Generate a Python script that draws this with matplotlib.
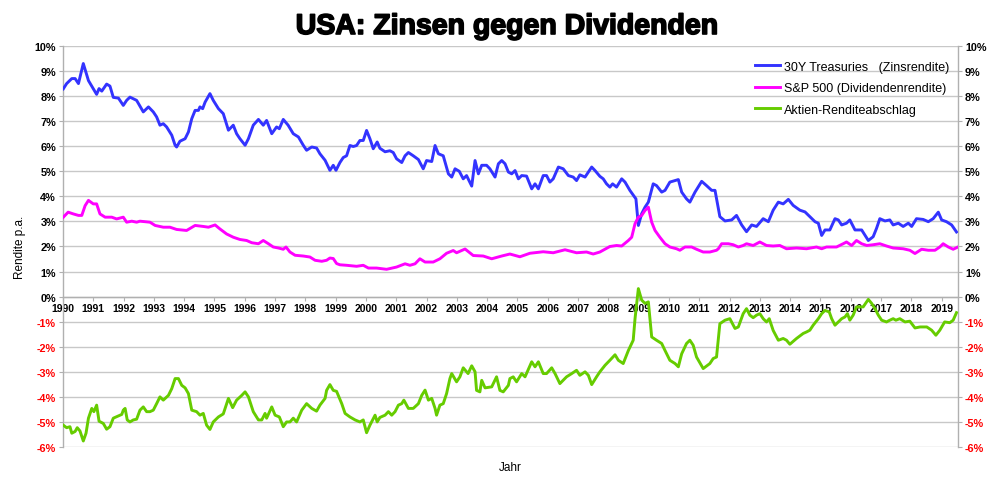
import matplotlib
matplotlib.use("Agg")
import matplotlib.pyplot as plt
import matplotlib.patheffects as pe

# 30Y Treasuries (Zinsrendite), % p.a.
t_years = [1990.01, 1990.12, 1990.29, 1990.40, 1990.51, 1990.67, 1990.84, 1991.00, 1991.11, 1991.19,
           1991.28, 1991.44, 1991.55, 1991.66, 1991.83, 1991.99, 1992.10, 1992.21, 1992.43, 1992.65,
           1992.82, 1992.98, 1993.09, 1993.20, 1993.31, 1993.42, 1993.59, 1993.70, 1993.75, 1993.86,
           1994.03, 1994.14, 1994.25, 1994.36, 1994.47, 1994.52, 1994.61, 1994.69, 1994.85, 1994.96,
           1995.13, 1995.29, 1995.46, 1995.62, 1995.73, 1995.84, 1996.01, 1996.12, 1996.28, 1996.45,
           1996.61, 1996.72, 1996.89, 1997.05, 1997.14, 1997.27, 1997.43, 1997.60, 1997.77, 1997.93,
           1998.04, 1998.21, 1998.37, 1998.48, 1998.65, 1998.81, 1998.92, 1999.01, 1999.14, 1999.25,
           1999.36, 1999.47, 1999.58, 1999.69, 1999.80, 1999.91, 2000.02, 2000.13, 2000.24, 2000.37,
           2000.46, 2000.63, 2000.79, 2000.90, 2001.01, 2001.18, 2001.29, 2001.40, 2001.56, 2001.73,
           2001.89, 2002.00, 2002.17, 2002.28, 2002.39, 2002.55, 2002.72, 2002.83, 2002.94, 2003.08,
           2003.21, 2003.32, 2003.49, 2003.60, 2003.71, 2003.82, 2003.98, 2004.09, 2004.26, 2004.37,
           2004.48, 2004.59, 2004.70, 2004.81, 2004.92, 2005.03, 2005.14, 2005.30, 2005.47, 2005.58,
           2005.69, 2005.85, 2005.96, 2006.07, 2006.18, 2006.35, 2006.51, 2006.68, 2006.84, 2006.95,
           2007.06, 2007.23, 2007.34, 2007.45, 2007.56, 2007.72, 2007.83, 2007.94, 2008.05, 2008.14,
           2008.27, 2008.44, 2008.55, 2008.71, 2008.91, 2008.99, 2009.10, 2009.21, 2009.32, 2009.48,
           2009.59, 2009.76, 2009.87, 2010.03, 2010.31, 2010.42, 2010.58, 2010.69, 2010.86, 2011.08,
           2011.24, 2011.41, 2011.52, 2011.68, 2011.85, 2012.07, 2012.23, 2012.40, 2012.56, 2012.73,
           2012.89, 2013.11, 2013.28, 2013.44, 2013.61, 2013.77, 2013.94, 2014.10, 2014.32, 2014.49,
           2014.65, 2014.82, 2014.93, 2015.04, 2015.15, 2015.31, 2015.48, 2015.59, 2015.70, 2015.86,
           2015.97, 2016.14, 2016.36, 2016.58, 2016.74, 2016.85, 2016.96, 2017.13, 2017.29, 2017.40,
           2017.57, 2017.73, 2017.90, 2018.01, 2018.17, 2018.39, 2018.56, 2018.72, 2018.89, 2019.00,
           2019.16, 2019.33, 2019.49]
t_vals = [8.29, 8.50, 8.70, 8.70, 8.50, 9.30, 8.62, 8.29, 8.07, 8.30,
          8.20, 8.48, 8.40, 7.95, 7.92, 7.63, 7.83, 7.96, 7.83, 7.37,
          7.57, 7.37, 7.17, 6.84, 6.90, 6.77, 6.44, 6.04, 5.97, 6.20,
          6.30, 6.57, 7.10, 7.43, 7.43, 7.57, 7.50, 7.76, 8.10, 7.83,
          7.50, 7.30, 6.64, 6.84, 6.50, 6.30, 6.04, 6.30, 6.84, 7.07,
          6.84, 7.03, 6.50, 6.77, 6.70, 7.07, 6.84, 6.50, 6.37, 6.04,
          5.84, 5.97, 5.93, 5.70, 5.44, 5.04, 5.24, 5.04, 5.35, 5.55,
          5.62, 6.03, 5.99, 6.03, 6.23, 6.23, 6.63, 6.30, 5.90, 6.17,
          5.92, 5.78, 5.82, 5.75, 5.50, 5.35, 5.62, 5.75, 5.62, 5.47,
          5.10, 5.43, 5.39, 6.03, 5.70, 5.62, 4.90, 4.77, 5.10, 5.00,
          4.70, 4.83, 4.41, 5.43, 4.90, 5.24, 5.24, 5.10, 4.77, 5.30,
          5.43, 5.30, 4.97, 4.90, 5.03, 4.70, 4.83, 4.81, 4.30, 4.50,
          4.30, 4.83, 4.83, 4.57, 4.70, 5.17, 5.10, 4.83, 4.77, 4.63,
          4.86, 4.77, 4.97, 5.17, 5.03, 4.80, 4.70, 4.50, 4.37, 4.50,
          4.37, 4.70, 4.57, 4.24, 3.90, 2.84, 3.31, 3.57, 3.77, 4.50,
          4.43, 4.17, 4.24, 4.57, 4.67, 4.17, 3.90, 3.77, 4.17, 4.60,
          4.43, 4.24, 4.24, 3.19, 3.02, 3.06, 3.24, 2.86, 2.59, 2.86,
          2.80, 3.11, 2.99, 3.45, 3.77, 3.70, 3.88, 3.64, 3.45, 3.38,
          3.19, 2.99, 2.93, 2.44, 2.66, 2.66, 3.11, 3.06, 2.86, 2.93,
          3.06, 2.66, 2.66, 2.24, 2.39, 2.72, 3.11, 3.02, 3.06, 2.86,
          2.93, 2.80, 2.93, 2.80, 3.11, 3.08, 2.99, 3.11, 3.37, 3.06,
          2.99, 2.86, 2.58]

# S&P 500 (Dividendenrendite), % p.a.
d_years = [1990.01, 1990.17, 1990.34, 1990.51, 1990.62, 1990.73, 1990.84, 1991.00, 1991.11, 1991.22,
           1991.39, 1991.61, 1991.77, 1991.99, 1992.10, 1992.27, 1992.43, 1992.54, 1992.87, 1993.04,
           1993.31, 1993.53, 1993.75, 1994.08, 1994.36, 1994.63, 1994.80, 1995.02, 1995.18, 1995.40,
           1995.62, 1995.84, 1996.06, 1996.23, 1996.45, 1996.61, 1996.78, 1996.94, 1997.11, 1997.27,
           1997.36, 1997.49, 1997.66, 1997.93, 1998.15, 1998.32, 1998.54, 1998.70, 1998.81, 1998.92,
           1999.03, 1999.14, 1999.36, 1999.69, 1999.91, 2000.08, 2000.35, 2000.68, 2001.01, 2001.29,
           2001.45, 2001.62, 2001.78, 2001.95, 2002.22, 2002.44, 2002.66, 2002.88, 2002.99, 2003.27,
           2003.54, 2003.87, 2004.15, 2004.48, 2004.75, 2005.08, 2005.41, 2005.85, 2006.18, 2006.57,
           2006.95, 2007.28, 2007.50, 2007.72, 2008.05, 2008.27, 2008.44, 2008.66, 2008.77, 2008.88,
           2008.99, 2009.10, 2009.21, 2009.32, 2009.43, 2009.54, 2009.70, 2009.87, 2010.03, 2010.25,
           2010.36, 2010.53, 2010.75, 2010.91, 2011.13, 2011.35, 2011.57, 2011.63, 2011.74, 2011.96,
           2012.12, 2012.29, 2012.45, 2012.56, 2012.78, 2013.00, 2013.22, 2013.44, 2013.66, 2013.88,
           2014.21, 2014.54, 2014.87, 2015.04, 2015.20, 2015.53, 2015.75, 2015.86, 2016.03, 2016.19,
           2016.36, 2016.53, 2016.74, 2016.96, 2017.18, 2017.40, 2017.73, 2017.95, 2018.12, 2018.34,
           2018.56, 2018.78, 2018.94, 2019.05, 2019.22, 2019.38, 2019.54]
d_vals = [3.17, 3.37, 3.30, 3.24, 3.24, 3.63, 3.84, 3.70, 3.70, 3.30,
          3.17, 3.17, 3.10, 3.17, 2.97, 3.01, 2.97, 3.01, 2.97, 2.84,
          2.77, 2.77, 2.68, 2.64, 2.84, 2.80, 2.77, 2.86, 2.70, 2.50,
          2.37, 2.28, 2.24, 2.15, 2.11, 2.24, 2.11, 1.98, 1.94, 1.89,
          1.98, 1.78, 1.65, 1.62, 1.58, 1.45, 1.41, 1.45, 1.54, 1.52,
          1.32, 1.27, 1.25, 1.21, 1.25, 1.14, 1.14, 1.09, 1.18, 1.31,
          1.25, 1.31, 1.51, 1.38, 1.38, 1.51, 1.73, 1.84, 1.75, 1.90,
          1.64, 1.62, 1.51, 1.62, 1.70, 1.59, 1.73, 1.79, 1.75, 1.87,
          1.75, 1.78, 1.70, 1.78, 2.00, 2.04, 2.02, 2.24, 2.37, 2.91,
          3.17, 3.24, 3.44, 3.57, 2.97, 2.64, 2.37, 2.11, 1.98, 1.91,
          1.85, 1.98, 1.98, 1.89, 1.78, 1.78, 1.85, 1.91, 2.11, 2.11,
          2.07, 1.98, 2.04, 2.11, 2.04, 2.18, 2.04, 2.02, 2.04, 1.91,
          1.94, 1.91, 1.98, 1.91, 1.98, 1.98, 2.11, 2.18, 2.04, 2.24,
          2.11, 2.04, 2.07, 2.11, 2.02, 1.94, 1.91, 1.85, 1.72, 1.89,
          1.85, 1.85, 1.98, 2.11, 1.98, 1.89, 1.98]

# Aktien-Renditeabschlag (Dividendenrendite minus Zinsrendite), %
s_years = [1990.01, 1990.12, 1990.23, 1990.29, 1990.40, 1990.47, 1990.56, 1990.67, 1990.76, 1990.84,
           1990.95, 1991.02, 1991.11, 1991.19, 1991.33, 1991.44, 1991.55, 1991.66, 1991.83, 1991.94,
           1991.99, 1992.05, 1992.12, 1992.21, 1992.32, 1992.43, 1992.54, 1992.65, 1992.76, 1992.87,
           1992.98, 1993.09, 1993.20, 1993.31, 1993.48, 1993.59, 1993.70, 1993.81, 1993.92, 1994.03,
           1994.14, 1994.25, 1994.41, 1994.52, 1994.63, 1994.74, 1994.85, 1994.96, 1995.13, 1995.29,
           1995.46, 1995.60, 1995.73, 1995.90, 1996.01, 1996.12, 1996.28, 1996.45, 1996.56, 1996.67,
           1996.72, 1996.89, 1997.00, 1997.14, 1997.27, 1997.38, 1997.49, 1997.60, 1997.71, 1997.88,
           1998.04, 1998.21, 1998.37, 1998.48, 1998.65, 1998.70, 1998.81, 1998.92, 1999.03, 1999.20,
           1999.31, 1999.47, 1999.64, 1999.80, 1999.91, 2000.02, 2000.13, 2000.30, 2000.37, 2000.46,
           2000.63, 2000.74, 2000.85, 2000.96, 2001.07, 2001.18, 2001.25, 2001.40, 2001.56, 2001.73,
           2001.84, 2001.95, 2002.06, 2002.17, 2002.28, 2002.33, 2002.44, 2002.55, 2002.66, 2002.77,
           2002.83, 2002.99, 2003.10, 2003.21, 2003.32, 2003.37, 2003.49, 2003.60, 2003.65, 2003.76,
           2003.82, 2003.93, 2004.15, 2004.31, 2004.42, 2004.53, 2004.70, 2004.75, 2004.86, 2004.97,
           2005.14, 2005.25, 2005.47, 2005.58, 2005.69, 2005.85, 2005.96, 2006.13, 2006.24, 2006.40,
           2006.62, 2006.79, 2006.95, 2007.06, 2007.23, 2007.34, 2007.45, 2007.61, 2007.72, 2007.89,
           2008.05, 2008.22, 2008.33, 2008.49, 2008.66, 2008.82, 2008.88, 2008.99, 2009.10, 2009.21,
           2009.32, 2009.43, 2009.59, 2009.76, 2009.87, 2010.03, 2010.20, 2010.31, 2010.42, 2010.58,
           2010.69, 2010.80, 2010.91, 2011.13, 2011.35, 2011.46, 2011.57, 2011.68, 2011.85, 2012.01,
           2012.18, 2012.29, 2012.45, 2012.56, 2012.67, 2012.78, 2012.89, 2013.00, 2013.11, 2013.22,
           2013.31, 2013.44, 2013.61, 2013.77, 2013.88, 2013.99, 2014.21, 2014.43, 2014.54, 2014.65,
           2014.76, 2014.93, 2015.04, 2015.15, 2015.29, 2015.37, 2015.48, 2015.59, 2015.70, 2015.81,
           2015.89, 2015.97, 2016.08, 2016.19, 2016.30, 2016.41, 2016.58, 2016.69, 2016.80, 2016.91,
           2017.02, 2017.18, 2017.29, 2017.40, 2017.49, 2017.62, 2017.79, 2017.95, 2018.12, 2018.29,
           2018.51, 2018.67, 2018.81, 2018.94, 2019.10, 2019.27, 2019.38, 2019.49]
s_vals = [-5.13, -5.23, -5.19, -5.45, -5.38, -5.23, -5.36, -5.76, -5.45, -4.85,
          -4.46, -4.59, -4.33, -4.97, -5.06, -5.29, -5.19, -4.85, -4.76, -4.70,
          -4.53, -4.46, -4.92, -5.00, -4.92, -4.89, -4.53, -4.40, -4.59, -4.59,
          -4.53, -4.27, -4.00, -4.13, -3.94, -3.67, -3.27, -3.27, -3.54, -3.64,
          -3.87, -4.53, -4.59, -4.73, -4.66, -5.13, -5.30, -5.00, -4.80, -4.68,
          -4.06, -4.43, -4.13, -3.94, -3.80, -4.00, -4.59, -4.92, -4.92, -4.66,
          -4.85, -4.40, -4.73, -4.80, -5.19, -5.00, -5.00, -4.85, -5.00, -4.53,
          -4.27, -4.46, -4.57, -4.33, -4.06, -3.74, -3.51, -3.74, -3.78, -4.27,
          -4.66, -4.80, -4.92, -5.00, -4.92, -5.43, -5.13, -4.73, -5.00, -4.82,
          -4.73, -4.59, -4.73, -4.59, -4.33, -4.27, -4.13, -4.46, -4.46, -4.27,
          -3.94, -3.73, -4.13, -4.06, -4.46, -4.73, -4.33, -4.27, -3.87, -3.27,
          -3.07, -3.40, -3.20, -2.84, -3.00, -3.07, -2.76, -3.00, -3.74, -3.80,
          -3.34, -3.64, -3.60, -3.20, -3.74, -3.80, -3.54, -3.27, -3.20, -3.40,
          -3.07, -3.20, -2.60, -2.80, -2.60, -3.07, -3.07, -2.84, -3.07, -3.47,
          -3.20, -3.07, -2.94, -3.14, -3.00, -3.14, -3.51, -3.20, -3.00, -2.74,
          -2.54, -2.32, -2.54, -2.67, -2.15, -1.74, -0.88, 0.32, -0.14, -0.27,
          -0.21, -1.61, -1.74, -1.87, -2.15, -2.54, -2.67, -2.80, -2.28, -1.87,
          -1.74, -1.94, -2.41, -2.87, -2.67, -2.47, -2.41, -1.08, -0.94, -0.88,
          -1.27, -1.21, -0.68, -0.48, -0.74, -0.84, -0.74, -0.68, -0.88, -1.01,
          -0.88, -1.35, -1.74, -1.67, -1.74, -1.90, -1.67, -1.47, -1.41, -1.34,
          -1.14, -0.88, -0.68, -0.55, -0.61, -0.88, -1.14, -1.01, -0.88, -0.81,
          -0.68, -0.94, -0.74, -0.41, -0.41, -0.41, -0.11, -0.27, -0.48, -0.74,
          -0.94, -1.01, -0.94, -0.88, -0.94, -0.88, -1.01, -0.98, -1.25, -1.21,
          -1.21, -1.34, -1.54, -1.34, -1.01, -1.04, -0.94, -0.64]

series_names = ["30Y Treasuries   (Zinsrendite)", "S&P 500 (Dividendenrendite)", "Aktien-Renditeabschlag"]
series_colors = ["#3333ff", "#ff00ff", "#66cc00"]
year_ticks = list(range(1990, 2020))
pct_ticks = list(range(-6, 11))

plt.rcParams['font.family'] = ["Liberation Sans", "DejaVu Sans"]

fig = plt.figure(figsize=(10, 4.81), dpi=100)
ax = fig.add_axes([0.063, 0.0686, 0.895, 0.8337])

ax.plot(t_years, t_vals, color=series_colors[0], lw=2.1, label=series_names[0], zorder=3)
ax.plot(d_years, d_vals, color=series_colors[1], lw=2.1, label=series_names[1], zorder=3)
ax.plot(s_years, s_vals, color=series_colors[2], lw=2.1, label=series_names[2], zorder=3)

ax.set_xlim(1990, 2019.54)
ax.set_ylim(-6, 10)
ax.set_yticks(pct_ticks)
ax.set_yticklabels(["%d%%" % v for v in pct_ticks])
ax.set_xticks(year_ticks)
ax.set_xticklabels([str(y) for y in year_ticks])

ax.grid(axis="y", color="#c8c8c8", lw=1.0, zorder=0)
ax.grid(axis="x", visible=False)

ax.spines["top"].set_visible(False)
ax.spines["bottom"].set_position(("data", 0))
for s in ["left", "right", "bottom"]:
    ax.spines[s].set_color("#b0b0b0")
    ax.spines[s].set_linewidth(1.0)

ax.tick_params(axis="y", which="both", left=True, right=True, labelleft=True, labelright=True,
               length=3, color="#b0b0b0", pad=2)
ax.tick_params(axis="x", length=3, color="#b0b0b0", pad=1.5)

for tick, v in zip(ax.yaxis.get_major_ticks(), pct_ticks):
    c = "#ff0000" if v < 0 else "black"
    for lab in (tick.label1, tick.label2):
        lab.set_color(c)
        lab.set_fontweight("bold")
        lab.set_fontsize(7.8)
for lab in ax.get_xticklabels():
    lab.set_fontweight("bold")
    lab.set_fontsize(7.5)

ax.set_ylabel("Rendite p.a.", fontsize=8.5, labelpad=6)
fig.text(0.51, 0.027, "Jahr", fontsize=8.5, ha="center", va="center")

# titel etwas fetter als Liberation Bold
fig.text(0.507, 1 - 35 / 481, "USA: Zinsen gegen Dividenden", fontsize=20.5, fontweight="bold",
         ha="center", va="baseline",
         path_effects=[pe.withStroke(linewidth=1.2, foreground="black")])

leg = ax.legend(loc="upper right", bbox_to_anchor=(1.0, 0.985), frameon=False, fontsize=9,
                handlelength=2.0, handletextpad=0.3, labelspacing=0.75, borderaxespad=0.3)

fig.savefig("out.png", dpi=100)
